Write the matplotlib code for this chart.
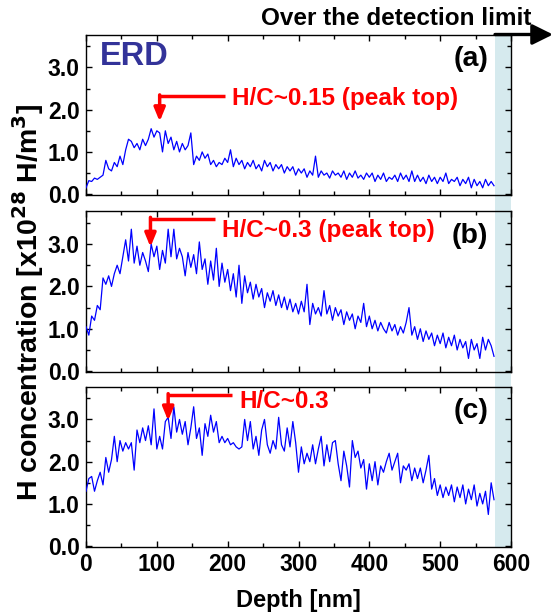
import numpy as np
import matplotlib
matplotlib.use("Agg")
import matplotlib.pyplot as plt
from matplotlib.patches import Rectangle, FancyArrowPatch
from matplotlib.transforms import blended_transform_factory
from matplotlib.ticker import MultipleLocator

plt.rcParams['font.family'] = ['Liberation Sans', 'DejaVu Sans']
plt.rcParams['font.weight'] = 'bold'

# depth step of the profiles [nm]
step = 4.0

# H concentration [x10^28 H/m^3], every 4 nm (0 .. 576 nm)
conc_a = [0.15, 0.32, 0.3, 0.38, 0.35, 0.4, 0.45, 0.8, 0.6, 0.55,
          0.75, 0.65, 0.9, 0.7, 1.05, 1.3, 1.25, 1.1, 1.2, 1.05,
          1.3, 1.15, 1.3, 1.55, 1.35, 1.5, 1.45, 1.0, 1.5, 1.2,
          1.35, 1.05, 1.25, 1.0, 1.2, 1.05, 1.15, 1.45, 0.7, 0.9,
          0.8, 1.0, 0.85, 0.95, 0.7, 0.8, 0.65, 0.75, 0.7, 0.85,
          0.75, 1.05, 0.65, 0.85, 0.7, 0.8, 0.6, 0.75, 0.65, 0.8,
          0.6, 0.7, 0.55, 0.8, 0.65, 0.75, 0.55, 0.7, 0.6, 0.7,
          0.5, 0.65, 0.55, 0.65, 0.45, 0.6, 0.5, 0.6, 0.4, 0.55,
          0.45, 0.9, 0.4, 0.55, 0.45, 0.5, 0.38, 0.55, 0.45, 0.5,
          0.4, 0.55, 0.35, 0.5, 0.4, 0.55, 0.38, 0.45, 0.35, 0.5,
          0.4, 0.5, 0.3, 0.45, 0.35, 0.5, 0.3, 0.4, 0.35, 0.45,
          0.3, 0.5, 0.35, 0.45, 0.3, 0.55, 0.3, 0.45, 0.3, 0.4,
          0.25, 0.45, 0.3, 0.4, 0.25, 0.4, 0.3, 0.5, 0.25, 0.35,
          0.3, 0.4, 0.2, 0.35, 0.25, 0.4, 0.15, 0.35, 0.2, 0.3,
          0.15, 0.35, 0.2, 0.3, 0.2]

conc_b = [1.05, 0.85, 1.3, 1.2, 1.55, 1.45, 2.2, 2.05, 2.25, 2.0,
          2.3, 2.5, 2.3, 2.7, 3.1, 2.6, 3.35, 2.55, 2.95, 2.5,
          2.8, 2.6, 2.35, 3.0, 2.7, 2.95, 2.4, 2.85, 2.55, 3.35,
          2.7, 3.35, 2.65, 2.9, 2.7, 2.25, 2.8, 2.45, 2.75, 2.3,
          3.05, 2.4, 2.65, 2.05, 2.6, 2.15, 2.9, 2.0, 2.55, 2.1,
          2.4, 1.9, 2.3, 1.75, 2.5, 1.6, 2.25, 1.85, 2.1, 1.7,
          2.05, 1.75, 1.95, 1.5, 1.85, 1.65, 1.9, 1.55, 1.8, 1.5,
          1.75, 1.45, 1.7, 1.4, 1.6, 1.35, 1.65, 1.4, 2.05, 1.1,
          1.6, 1.35, 1.5, 1.3, 1.9, 1.35, 1.55, 1.2, 1.5, 1.3,
          1.45, 1.1, 1.4, 1.2, 1.35, 1.0, 1.3, 1.15, 1.6, 1.05,
          1.3, 1.0, 1.2, 0.95, 1.15, 1.0, 0.9, 1.15, 0.95, 1.1,
          0.85, 1.05, 0.9, 1.15, 1.5, 0.85, 1.05, 0.75, 1.0, 0.7,
          0.95, 0.75, 0.9, 0.6, 0.85, 0.65, 0.9, 0.55, 0.8, 0.6,
          0.85, 0.5, 0.75, 0.55, 0.7, 0.3, 0.75, 0.5, 0.65, 0.3,
          0.8, 0.5, 0.75, 0.6, 0.35]

conc_c = [1.3, 1.6, 1.65, 1.3, 1.55, 1.75, 1.45, 2.1, 1.75, 2.05,
          2.6, 2.0, 2.5, 2.25, 2.45, 2.3, 2.45, 1.8, 2.75, 2.45,
          2.8, 2.5, 2.85, 2.4, 3.25, 2.3, 2.6, 2.3, 2.95, 3.05,
          2.55, 3.3, 2.7, 3.0, 2.65, 2.95, 2.4, 2.8, 3.3, 2.55,
          2.8, 2.15, 2.9, 2.6, 3.1, 2.7, 2.95, 2.45, 2.6, 2.45,
          2.55, 2.4, 2.45, 2.35, 2.3, 2.35, 3.0, 2.5, 2.95, 2.3,
          2.6, 2.15, 2.75, 3.0, 2.4, 2.2, 2.5, 2.3, 3.05, 2.4,
          2.25, 2.8, 2.35, 2.95, 2.45, 1.75, 2.35, 1.95, 2.2, 2.0,
          2.4, 1.95, 2.3, 2.6, 1.9, 2.4, 2.0, 2.45, 2.5, 1.95,
          1.55, 2.25, 1.9, 1.4, 2.5, 2.1, 2.25, 1.85, 2.05, 1.35,
          1.95, 1.55, 2.0, 1.45, 1.9, 1.75, 2.0, 2.2, 1.8, 2.0,
          2.2, 1.5, 1.9, 1.8, 1.95, 1.55, 1.85, 1.6, 1.85, 1.5,
          1.8, 2.15, 1.35, 1.6, 1.2, 1.45, 1.15, 1.4, 1.2, 1.45,
          1.05, 1.4, 1.15, 1.45, 1.0, 1.35, 1.1, 1.45, 0.95, 1.25,
          1.0, 1.3, 0.75, 1.5, 1.1]

panel_tags = ['(a)', '(b)', '(c)']
# annotation: text, x of vertical leg, x of line end, y of horizontal leg, y of tip, text y
notes = [
    ('H/C~0.15 (peak top)', 104, 196, 2.32, 1.72, 2.27),
    ('H/C~0.3 (peak top)', 91, 182, 3.60, 2.93, 3.33),
    ('H/C~0.3', 116, 206, 3.58, 2.97, 3.42),
]
limit_depth = 578  # over the detection limit beyond this depth

W, H = 553, 612
fig = plt.figure(figsize=(W / 100, H / 100), dpi=100)
fig.patch.set_facecolor('white')

left = 86 / W
width = 425 / W
panel_px = [(34.5, 195), (211, 372), (386.5, 547)]
axes = []
for top, bot in panel_px:
    ax = fig.add_axes([left, 1 - bot / H, width, (bot - top) / H])
    ax.set_facecolor('none')
    axes.append(ax)

for ax, conc, tag, note in zip(axes, [conc_a, conc_b, conc_c], panel_tags, notes):
    depth = np.arange(len(conc)) * step
    ax.plot(depth, conc, color='#0000ff', lw=0.9, zorder=3)
    ax.set_xlim(0, 600)
    ax.set_ylim(-0.02, 3.78)
    ax.xaxis.set_major_locator(MultipleLocator(100))
    ax.xaxis.set_minor_locator(MultipleLocator(50))
    ax.yaxis.set_minor_locator(MultipleLocator(0.5))
    ax.set_yticks([0, 1, 2, 3])
    ax.set_yticklabels(['0.0', '1.0', '2.0', '3.0'])
    ax.tick_params(which='both', direction='in', top=True, right=True, width=1.0,
                   labelsize=16.5, pad=4.5)
    ax.tick_params(which='major', length=4.5)
    ax.tick_params(which='minor', length=2.8)
    for sp in ax.spines.values():
        sp.set_linewidth(1.0)
    ax.text(568, 3.2, tag, ha='right', va='center', fontsize=20.5, fontweight='bold')

    label, xv, xe, yh, ytip, yt = note
    ax.plot([xe, xv], [yh, yh], color='red', lw=2.5, solid_capstyle='butt',
            solid_joinstyle='miter', zorder=4)
    ax.annotate('', xy=(xv, ytip), xytext=(xv, yh + 0.03),
                arrowprops=dict(arrowstyle='-|>,head_length=0.8,head_width=0.33',
                                color='red', lw=2.5, shrinkA=0, shrinkB=0,
                                mutation_scale=10), zorder=4)
    ax.text(xe + 10, yt, label, ha='left', va='center', color='red',
            fontsize=17.5, fontweight='bold', zorder=4)

for ax in axes[:2]:
    ax.tick_params(labelbottom=False)

axes[0].text(19, 3.25, 'ERD', ha='left', va='center', color='#333399',
             fontsize=23.5, fontweight='bold')

# shaded band beyond detection limit, spanning all panels
trans = blended_transform_factory(axes[2].transData, fig.transFigure)
y_lo = 1 - 547 / H
y_hi = 1 - 34.5 / H
fig.patches.append(Rectangle((limit_depth, y_lo), 600 - limit_depth, y_hi - y_lo,
                             transform=trans, facecolor='#d6eaee', edgecolor='none',
                             zorder=-1, figure=fig))

# arrow continuing the top frame
arr = FancyArrowPatch((495 / W, y_hi), (1.0, y_hi), transform=fig.transFigure,
                      arrowstyle='-|>,head_length=1.25,head_width=0.62',
                      mutation_scale=10, color='black', lw=2.4,
                      shrinkA=0, shrinkB=0)
fig.patches.append(arr)
fig.text(531.7 / W, 1 - 25 / H, 'Over the detection limit', ha='right', va='baseline',
         fontsize=17.5, fontweight='bold')

fig.text(28 / W, 1 - 302.5 / H, 'H concentration [x10$^{\\mathbf{28}}$ H/m$^{\\mathbf{3}}$]',
         rotation=90, ha='center', va='center', fontsize=20.5, fontweight='bold')
fig.text(298.5 / W, 1 - 600 / H, 'Depth [nm]', ha='center', va='center',
         fontsize=17, fontweight='bold')

fig.savefig('out.png', dpi=100)
